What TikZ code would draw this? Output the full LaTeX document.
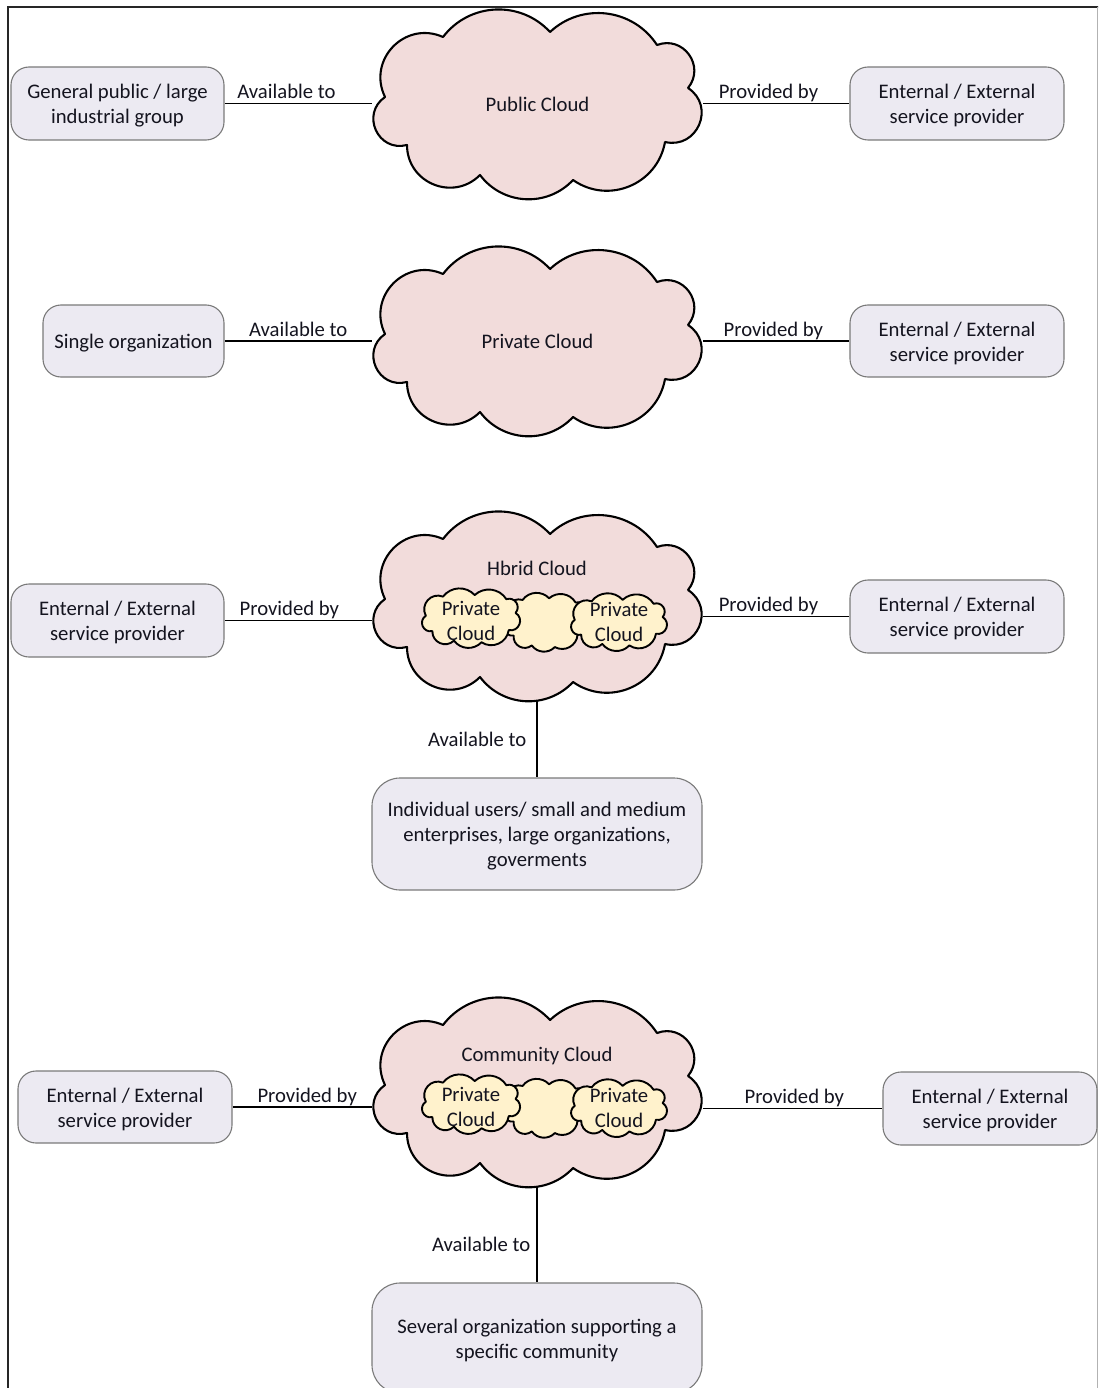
\documentclass[tikz,border=0pt]{standalone}
\usepackage{fontspec}
\setmainfont{Carlito}
\usetikzlibrary{calc}
\pgfdeclarelayer{back}
\pgfsetlayers{back,main}
\definecolor{cloudpink}{HTML}{F2DCDB}
\definecolor{cloudgold}{HTML}{FFF2CC}
\definecolor{boxfill}{HTML}{ECEAF2}
\definecolor{boxline}{HTML}{7A7A7A}
\definecolor{ink}{HTML}{14141F}
\newcommand\diagfont{\fontsize{20.7pt}{25pt}\selectfont}
% cloud outline: nine puffs between fixed dents, dents given as fractions
% of the width and height; #1 style, #2 centre x, #3 centre y, #4 width, #5 height
\newcommand\cloudoutline[5]{%
  \begin{scope}[shift={({#2-#4/2},{#3-#5/2})}]
    \coordinate (k1) at ({0.2145*#4},{0.1436*#5});
    \coordinate (k2) at ({0.5378*#4},{0.1170*#5});
    \coordinate (k3) at ({0.8610*#4},{0.1862*#5});
    \coordinate (k4) at ({0.9547*#4},{0.4149*#5});
    \coordinate (k5) at ({0.8852*#4},{0.7021*#5});
    \coordinate (k6) at ({0.6073*#4},{0.9043*#5});
    \coordinate (k7) at ({0.3263*#4},{0.8777*#5});
    \coordinate (k8) at ({0.1057*#4},{0.7181*#5});
    \coordinate (k9) at ({0.0393*#4},{0.4628*#5});
    \path[#1] (k1)
      .. controls ($(k1)!.406!50:(k2)$) and ($(k2)!.406!-50:(k1)$) .. (k2)
      .. controls ($(k2)!.406!50:(k3)$) and ($(k3)!.406!-50:(k2)$) .. (k3)
      .. controls ($(k3)!.530!75:(k4)$) and ($(k4)!.530!-75:(k3)$) .. (k4)
      .. controls ($(k4)!.568!80:(k5)$) and ($(k5)!.568!-80:(k4)$) .. (k5)
      .. controls ($(k5)!.434!57.5:(k6)$) and ($(k6)!.434!-57.5:(k5)$) .. (k6)
      .. controls ($(k6)!.406!50:(k7)$) and ($(k7)!.406!-50:(k6)$) .. (k7)
      .. controls ($(k7)!.482!67.5:(k8)$) and ($(k8)!.482!-67.5:(k7)$) .. (k8)
      .. controls ($(k8)!.568!80:(k9)$) and ($(k9)!.568!-80:(k8)$) .. (k9)
      .. controls ($(k9)!.497!70:(k1)$) and ($(k1)!.497!-70:(k9)$) .. (k1) -- cycle;
  \end{scope}}
\begin{document}
\begin{tikzpicture}[x=1pt,y=-1pt,
  bigcloud/.style={draw=black,line width=2.1pt,fill=cloudpink,line join=round},
  smallcloud/.style={draw=black,line width=1.9pt,fill=cloudgold,line join=round},
  cloudframe/.style={inner sep=0pt,minimum width=331pt,minimum height=188pt,font=\diagfont,text=ink},
  plain/.style={inner sep=0pt,font=\diagfont,text=ink,align=center},
  % a strut beside the text block lowers the text a little inside the box
  lift/.style={execute at begin node={\rule{0pt}{#1}}},
  infobox/.style={draw=boxline,line width=1.1pt,fill=boxfill,rounded corners=18pt,
    align=center,inner sep=0pt,font=\diagfont,text=ink},
  pairbox/.style={infobox,lift=44pt},
  widebox/.style={infobox,rounded corners=28pt,minimum width=330pt},
  conn/.style={draw=black,line width=1.5pt},
  lbl/.style={inner sep=0pt,font=\diagfont,text=ink,anchor=base,yshift=5pt},
  vlbl/.style={inner sep=0pt,font=\diagfont,text=ink,anchor=east}]
\useasboundingbox (0,0) rectangle (1098,1388);
\clip (0,0) rectangle (1098,1388);

% page frame
\draw[line width=2pt,draw=black!85] (8,1392) -- (8,7) -- (1100,7);
\draw[line width=1pt,draw=black!30] (1097,7) -- (1097,1392);

% ---- public cloud row
\cloudoutline{bigcloud}{537.5}{104}{331}{188}
\node[cloudframe] (pub) at (537.5,104) {Public Cloud};
\node[pairbox,minimum width=213pt,minimum height=73pt] (a1) at (117.5,103.5)
  {General public / large\\industrial group};
\node[pairbox,minimum width=214pt,minimum height=73pt] (b1) at (957,103.5)
  {Enternal / External\\service provider};

% ---- private cloud row
\cloudoutline{bigcloud}{537.5}{341}{331}{188}
\node[cloudframe] (priv) at (537.5,341) {Private Cloud};
\node[infobox,lift=18.5pt,minimum width=181pt,minimum height=72pt] (a2) at (133.5,341)
  {Single organization};
\node[pairbox,minimum width=214pt,minimum height=72pt] (b2) at (957,341)
  {Enternal / External\\service provider};

% ---- hybrid cloud row
\cloudoutline{bigcloud}{537.5}{606}{331}{188}
\node[cloudframe] (hyb) at (537.5,606) {};
\node[plain] (hybt) at (537,568) {Hbrid Cloud};
\cloudoutline{smallcloud}{546}{622}{82}{62}
\cloudoutline{smallcloud}{471}{618}{98}{60}
\cloudoutline{smallcloud}{619}{622}{96}{58}
\node[plain] (hpl) at (471,620.5) {Private\\Cloud};
\node[plain] (hpr) at (619,622) {Private\\Cloud};
\node[pairbox,minimum width=213pt,minimum height=73pt] (a3) at (117.5,620.5)
  {Enternal / External\\service provider};
\node[pairbox,minimum width=214pt,minimum height=73pt] (b3) at (957,616.5)
  {Enternal / External\\service provider};
\node[widebox,lift=69pt,minimum height=112pt] (c3) at (537,834)
  {Individual users/ small and medium\\enterprises, large organizations,\\goverments};

% ---- community cloud row
\cloudoutline{bigcloud}{537.5}{1092}{331}{188}
\node[cloudframe] (com) at (537.5,1092) {};
\node[plain] (comt) at (537,1055.5) {Community Cloud};
\cloudoutline{smallcloud}{546}{1108}{82}{62}
\cloudoutline{smallcloud}{471}{1104}{98}{60}
\cloudoutline{smallcloud}{619}{1108}{96}{58}
\node[plain] (cpl) at (471,1107) {Private\\Cloud};
\node[plain] (cpr) at (619,1108) {Private\\Cloud};
\node[pairbox,minimum width=214pt,minimum height=72pt] (a4) at (125,1107)
  {Enternal / External\\service provider};
\node[pairbox,minimum width=214pt,minimum height=73pt] (b4) at (990,1108.5)
  {Enternal / External\\service provider};
\node[widebox,lift=44pt,minimum height=110pt] (c4) at (537,1338)
  {Several organization supporting a\\specific community};

% ---- connectors, kept behind the shapes
\begin{pgfonlayer}{back}
\draw[conn] (a1.east) -- node[lbl,pos=.42]{Available to} (a1.east -| pub.west);
\draw[conn] (pub.east |- b1.west) -- node[lbl,pos=.446]{Provided by} (b1.west);
\draw[conn] (a2.east) -- node[lbl,pos=.5]{Available to} (a2.east -| priv.west);
\draw[conn] (priv.east |- b2.west) -- node[lbl,pos=.48]{Provided by} (b2.west);
\draw[conn] (a3.east) -- node[lbl,pos=.44]{Provided by} (a3.east -| hyb.west);
\draw[conn] (hyb.east |- b3.west) -- node[lbl,pos=.446]{Provided by} (b3.west);
\draw[conn] (c3.north |- hyb.south) -- node[vlbl,pos=.51,xshift=-10pt]{Available to} (c3.north);
\draw[conn] (a4.east) -- node[lbl,pos=.536]{Provided by} (a4.east -| com.west);
\draw[conn] (com.east |- b4.west) -- node[lbl,pos=.508]{Provided by} (b4.west);
\draw[conn] (c4.north |- com.south) -- node[vlbl,pos=.6,xshift=-6pt]{Available to} (c4.north);
\end{pgfonlayer}
\end{tikzpicture}
\end{document}
